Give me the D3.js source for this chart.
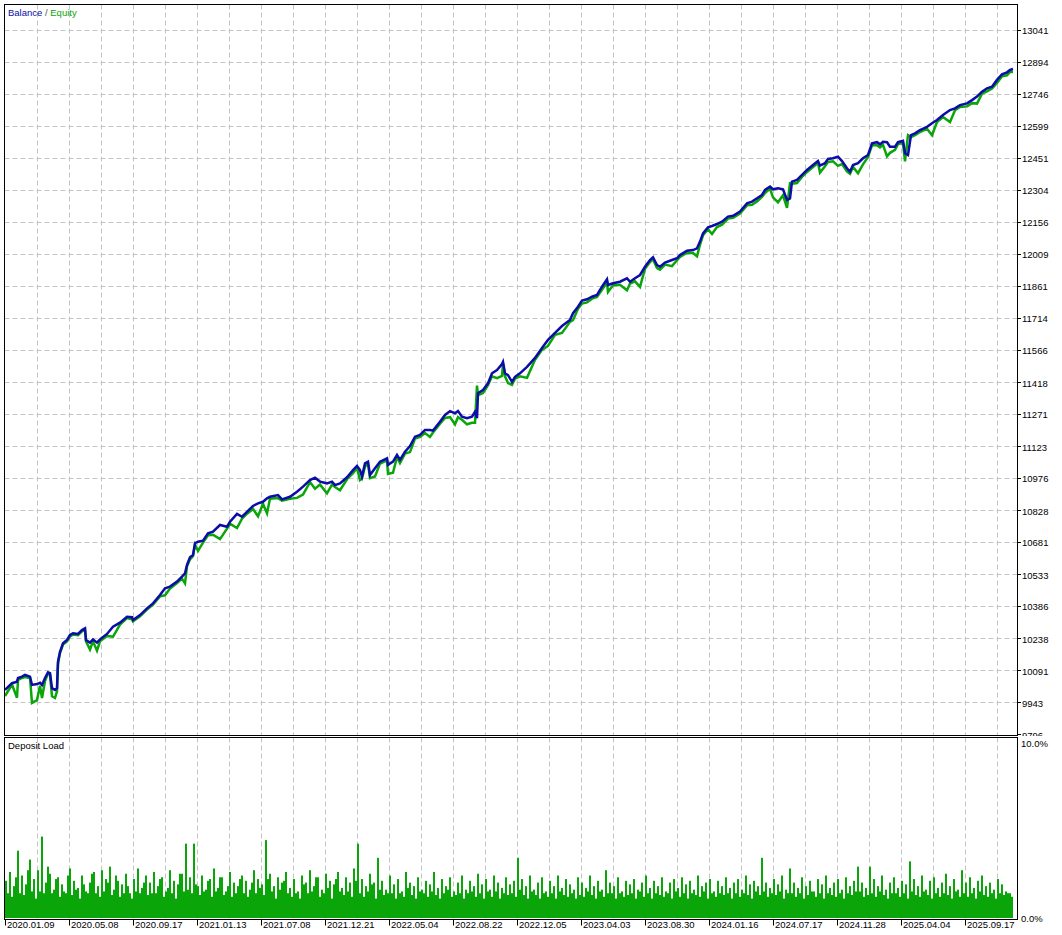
<!DOCTYPE html>
<html>
<head>
<meta charset="utf-8">
<script src="https://cdnjs.cloudflare.com/ajax/libs/d3/7.8.5/d3.min.js"></script>
<style>
body { margin: 0; background: #fff; }
text { font-family: "Liberation Sans", Arial, sans-serif; font-size: 9.5px; fill: #000; }
</style>
</head>
<body>
<div id="chart"></div>
<script>
// deal number of each balance point
const trade = [0,7,12,13,17,20,25,27,32,35,
  37,40,43,45,47,50,52,53,55,58,
  62,65,68,73,77,80,81,85,88,92,
  95,102,108,115,122,127,128,135,142,148,
  155,160,165,172,177,180,182,185,188,190,
  193,198,203,208,215,222,225,232,237,242,
  248,253,258,262,265,273,277,285,292,298,
  305,310,315,322,327,330,335,342,348,352,
  355,357,360,363,365,370,375,382,383,388,
  392,395,400,405,410,415,420,425,428,435,
  440,445,450,453,457,462,467,470,472,473,
  478,483,487,492,497,498,500,503,507,510,
  515,522,530,537,543,550,557,565,568,573,
  577,582,587,592,597,602,603,608,615,622,
  625,630,635,640,645,648,652,655,660,667,
  672,675,682,688,692,695,698,703,707,712,
  717,723,728,735,742,747,752,757,760,765,
  768,773,778,782,785,787,792,797,802,808,
  813,815,820,823,828,833,837,842,845,848,
  853,858,863,867,872,875,878,882,885,890,
  893,898,900,903,906,910,915,922,927,932,
  938,945,950,955,962,967,972,977,982,987,
  992,997,1002,1005,1008];

const balance = [10000,10031,10038,10055,10061,10069,10061,10023,10027,10033,
  10023,10055,10081,10077,10008,10000,10008,10130,10176,10215,
  10230,10253,10261,10258,10276,10284,10230,10218,10233,10218,
  10233,10258,10291,10310,10337,10335,10322,10345,10376,10399,
  10437,10468,10476,10499,10522,10537,10576,10611,10622,10676,
  10683,10688,10722,10729,10760,10752,10775,10811,10798,10821,
  10848,10860,10867,10883,10890,10898,10878,10890,10913,10937,
  10967,10978,10960,10952,10960,10944,10952,10980,11013,11032,
  11013,10983,11044,11052,10990,11021,11052,11067,11037,11052,
  11083,11060,11098,11124,11167,11175,11198,11198,11195,11236,
  11267,11285,11275,11285,11259,11252,11259,11282,11252,11367,
  11382,11413,11459,11474,11502,11512,11459,11451,11420,11443,
  11459,11489,11530,11576,11613,11645,11677,11705,11736,11766,
  11794,11800,11812,11820,11858,11892,11866,11874,11881,11897,
  11881,11897,11912,11950,11981,11994,11958,11950,11969,11981,
  11989,12004,12024,12027,12035,12066,12104,12132,12138,12147,
  12158,12181,12185,12204,12242,12250,12265,12281,12304,12319,
  12307,12312,12307,12258,12265,12342,12350,12373,12396,12419,
  12437,12416,12427,12447,12450,12457,12437,12404,12388,12419,
  12427,12450,12465,12519,12524,12514,12526,12524,12503,12503,
  12524,12530,12473,12465,12557,12565,12580,12595,12611,12626,
  12649,12672,12680,12695,12703,12718,12734,12757,12772,12780,
  12811,12837,12846,12857,12861];

// floating profit/loss at each balance point (equity - balance)
const floating = [-28,-6,-74,-9,-6,-9,-6,-83,-74,-14,
  -60,-14,-6,-6,-37,-37,-14,-9,-6,-6,
  -6,-6,-6,-6,-6,-6,-6,-32,-9,-37,
  -9,-9,-46,-9,-6,-9,-6,-6,-6,-6,
  -6,-32,-9,-6,-9,-46,-6,-9,-6,-6,
  -42,-9,-9,-14,-65,-9,-9,-65,-9,-9,
  -14,-60,-9,-69,-9,-14,-6,-9,-28,-37,
  -9,-51,-14,-46,-14,-9,-32,-9,-14,-9,
  -46,-9,-14,-9,-14,-37,-9,-9,-42,-51,
  -9,-14,-9,-28,-9,-9,-14,-32,-9,-9,
  -14,-28,-51,-28,-14,-28,-28,-51,150,-9,
  -14,-9,-14,-37,-55,-9,-14,-37,-14,-9,
  -14,-51,-9,-9,-28,-9,-32,-9,-32,-9,
  -14,-14,-9,-9,-14,-14,-32,-9,-14,-55,
  -9,-14,-55,-9,-9,-9,-14,-14,-9,-28,
  -9,-9,-9,-14,-37,-14,-9,-9,-37,-14,
  -14,-9,-9,-9,-9,-14,-14,-9,-14,-9,
  -37,-65,-28,-37,70,-9,-14,-9,-9,-9,
  -9,-32,-14,-14,-14,-42,-14,-14,-9,-9,
  -46,-28,-9,-9,-14,-14,-14,-65,-28,-14,
  -9,-9,-37,92,-9,-9,-9,-9,-55,-9,
  -9,-55,-9,-9,-14,-14,-32,-9,-14,-9,
  -14,-9,-14,-9,-14];

const yTicks = [9796,9943,10091,10238,10386,10533,10681,10828,10976,11123,11271,11418,
  11566,11714,11861,12009,12156,12304,12451,12599,12746,12894,13041];

const dateTrade = [0,64,128,192,256,320,384,448,512,576,640,704,768,832,896,960];
const dateLabels = ["2020.01.09","2020.05.08","2020.09.17","2021.01.13","2021.07.08","2021.12.21",
  "2022.05.04","2022.08.22","2022.12.05","2023.04.03","2023.08.30","2024.01.16",
  "2024.07.17","2024.11.28","2025.04.04","2025.09.17"];

// deposit load in %, one value per 2 deals
const loadStep = 2;
const loadPct = [
  2.1,1.4,2.6,1.2,1.8,2.3,3.8,1.4,2.4,1.3,1.9,2.7,3.3,1.5,2.2,1.1,2.7,1.5,4.6,1.4,2.0,2.9,2.5,1.4,
  1.6,2.2,2.3,1.2,1.9,1.5,1.4,2.4,2.8,1.3,2.1,1.6,1.7,1.1,2.4,1.9,1.5,1.4,2.0,2.5,2.6,1.4,1.8,1.2,
  2.7,1.5,2.2,2.0,2.9,1.3,1.6,2.4,2.1,1.2,1.9,1.4,2.5,1.8,1.4,1.1,2.2,1.5,2.8,1.4,1.7,2.0,2.4,1.3,
  2.0,1.4,2.6,1.4,1.8,2.2,2.3,1.2,1.5,1.7,2.7,1.4,2.1,1.1,1.9,2.5,2.5,1.5,4.2,1.6,2.3,1.4,4.2,1.9,
  1.8,1.3,2.4,1.5,1.6,2.1,2.2,1.2,2.8,1.5,1.7,2.3,2.3,1.3,1.5,1.8,2.6,1.2,2.0,1.4,1.8,2.2,2.4,1.4,
  2.1,1.2,1.6,2.0,2.7,1.4,2.2,1.7,1.9,1.3,4.4,2.2,2.5,1.5,1.8,1.1,2.3,1.6,2.0,2.1,2.6,1.4,1.7,1.2,
  2.2,1.4,1.5,1.1,2.4,1.9,2.0,1.4,2.7,1.5,1.8,2.3,2.3,1.2,1.6,1.4,2.5,1.7,2.1,1.1,1.9,2.2,2.6,1.5,
  1.7,1.3,2.3,1.5,2.0,1.2,2.8,2.1,4.2,1.4,2.2,1.2,1.8,1.5,2.5,1.9,2.0,1.1,3.4,1.6,2.1,1.3,1.6,1.4,
  2.4,1.4,1.9,1.1,2.2,1.4,1.5,1.2,2.6,1.7,2.0,1.3,1.8,1.1,2.3,1.5,1.6,1.4,2.1,1.2,1.9,1.5,2.6,1.3,
  1.7,1.1,2.2,1.4,1.8,1.6,2.3,1.2,1.5,1.3,2.0,1.4,2.4,1.1,1.6,1.4,2.1,1.5,1.8,1.2,2.5,1.4,1.9,1.1,
  2.2,1.5,1.6,1.2,2.4,1.5,2.0,1.1,1.7,1.4,2.3,1.3,1.9,1.4,2.1,1.2,3.4,1.6,2.2,1.3,1.8,1.1,2.4,1.5,
  1.6,1.3,2.0,1.1,2.3,1.4,1.5,1.2,2.1,1.4,1.8,1.1,2.4,1.5,1.7,1.3,2.2,1.2,1.9,1.4,1.6,1.1,2.3,1.3,
  2.0,1.2,1.7,1.5,2.4,1.3,1.8,1.1,2.1,1.5,1.6,1.2,2.7,1.4,2.0,1.4,1.8,1.1,2.3,1.4,1.5,1.2,2.1,1.3,
  1.9,1.4,2.2,1.1,1.6,1.5,2.0,1.2,2.4,1.4,1.7,1.1,2.1,1.4,1.8,1.3,2.3,1.2,1.5,1.4,2.0,1.1,2.2,1.5,
  1.7,1.2,2.3,1.4,1.9,1.1,2.1,1.4,1.6,1.3,2.4,1.2,1.8,1.5,2.0,1.1,2.2,1.4,1.5,1.2,2.1,1.4,1.8,1.3,
  2.3,1.4,1.7,1.1,2.0,1.4,2.2,1.2,1.6,1.4,2.4,1.3,1.9,1.1,2.1,1.5,1.8,1.3,3.4,1.5,2.0,1.2,1.7,1.4,
  2.2,1.3,1.9,1.5,2.4,1.1,1.6,1.4,2.8,1.4,2.0,1.2,1.7,1.4,2.3,1.1,1.8,1.3,2.1,1.5,1.5,1.2,2.2,1.4,
  1.9,1.1,2.4,1.4,1.7,1.3,2.0,1.2,2.2,1.4,1.6,1.1,2.3,1.4,1.8,1.3,2.1,1.5,2.9,1.5,2.0,1.2,1.7,1.3,
  2.9,1.4,2.2,1.2,1.8,1.5,2.4,1.3,1.6,1.1,2.0,1.4,2.3,1.4,1.7,1.2,2.1,1.4,1.9,1.1,3.2,1.5,2.2,1.3,
  1.8,1.2,2.4,1.5,1.6,1.3,2.1,1.1,2.3,1.4,1.7,1.2,2.0,1.4,2.5,1.3,1.8,1.1,2.2,1.5,1.6,1.2,2.7,1.4,
  2.0,1.2,2.3,1.4,1.7,1.1,2.1,1.5,2.4,1.3,1.8,1.2,2.0,1.4,1.6,1.1,2.2,1.4,1.9,1.3,1.5,1.4,1.4,1.2];
const loadTicks = [10, 0];

const W = 1062, H = 935;
const left = 4.5, right = 1017.5;
const mainTop = 4.5, mainBottom = 735.5;
const subTop = 737.5, subBottom = 919.5;
const blue = "#0c0ca8", green = "#09a509", gridCol = "#c4c4c4";

const svg = d3.select("#chart").append("svg")
  .attr("width", W).attr("height", H);

const x = d3.scaleLinear().domain([0, 1008]).range([5, 1013]);
const y = d3.scaleLinear().domain([9796, 13041]).range([734.2, 30]);
const yLoad = d3.scaleLinear().domain([0, 10]).range([918, 741]);

const gridX = d3.range(32, 1008, 32);

// main panel grid
const gMain = svg.append("g");
gMain.selectAll(".hg").data(yTicks.slice(1)).enter().append("line")
  .attr("x1", left).attr("x2", right)
  .attr("y1", d => Math.round(y(d)) + 0.5).attr("y2", d => Math.round(y(d)) + 0.5)
  .attr("stroke", gridCol).attr("stroke-dasharray", "5,3");
gMain.selectAll(".vg").data(gridX).enter().append("line")
  .attr("x1", d => Math.round(x(d)) + 0.5).attr("x2", d => Math.round(x(d)) + 0.5)
  .attr("y1", mainTop).attr("y2", mainBottom)
  .attr("stroke", gridCol).attr("stroke-dasharray", "5,3");

// lower panel grid
svg.append("g").selectAll("line").data(gridX).enter().append("line")
  .attr("x1", d => Math.round(x(d)) + 0.5).attr("x2", d => Math.round(x(d)) + 0.5)
  .attr("y1", subTop).attr("y2", subBottom)
  .attr("stroke", gridCol).attr("stroke-dasharray", "5,3");

// equity and balance
const pts = trade.map((t, i) => ({t: t, b: balance[i], e: balance[i] + floating[i]}));
svg.append("path").datum(pts)
  .attr("d", d3.line().x(d => x(d.t)).y(d => y(d.e)))
  .attr("fill", "none").attr("stroke", green).attr("stroke-width", 2.5);
svg.append("path").datum(pts)
  .attr("d", d3.line().x(d => x(d.t)).y(d => y(d.b)))
  .attr("fill", "none").attr("stroke", blue).attr("stroke-width", 2.5);

// deposit load bars
svg.append("g").selectAll("rect").data(loadPct).enter().append("rect")
  .attr("x", (d, i) => x(i * loadStep))
  .attr("width", x(loadStep) - x(0))
  .attr("y", d => yLoad(d))
  .attr("height", d => yLoad(0) - yLoad(d))
  .attr("fill", green);

// frames
svg.append("rect").attr("x", left).attr("y", mainTop)
  .attr("width", right - left).attr("height", mainBottom - mainTop)
  .attr("fill", "none").attr("stroke", "#000");
svg.append("rect").attr("x", left).attr("y", subTop)
  .attr("width", right - left).attr("height", subBottom - subTop)
  .attr("fill", "none").attr("stroke", "#000");

// right axis of main panel
svg.append("clipPath").attr("id", "axclip").append("rect")
  .attr("x", right).attr("y", 0).attr("width", 60).attr("height", 736);
const gy = svg.append("g").attr("clip-path", "url(#axclip)");
gy.selectAll("line").data(yTicks).enter().append("line")
  .attr("x1", right).attr("x2", right + 3.5)
  .attr("y1", d => Math.round(y(d)) + 0.5).attr("y2", d => Math.round(y(d)) + 0.5)
  .attr("stroke", "#000");
gy.selectAll("text").data(yTicks).enter().append("text")
  .attr("x", 1022).attr("y", d => y(d) + 1).attr("dy", "0.35em")
  .text(d => d);

// right axis of deposit load
svg.append("g").selectAll("text").data(loadTicks).enter().append("text")
  .attr("x", 1021).attr("y", d => d === 10 ? 744 : 919).attr("dy", "0.35em")
  .text(d => d3.format(".1f")(d) + "%");

// bottom axis
const gx = svg.append("g");
gx.selectAll("line").data(dateTrade).enter().append("line")
  .attr("x1", d => Math.round(x(d)) + 0.5).attr("x2", d => Math.round(x(d)) + 0.5)
  .attr("y1", subBottom).attr("y2", subBottom + 6)
  .attr("stroke", "#000");
gx.selectAll("text").data(dateLabels).enter().append("text")
  .attr("x", (d, i) => x(dateTrade[i]) + 2).attr("y", 925).attr("dy", "0.35em")
  .text(d => d);

// titles
const t1 = svg.append("text").attr("x", 8).attr("y", 13).attr("dy", "0.35em");
t1.append("tspan").style("fill", blue).text("Balance");
t1.append("tspan").style("fill", "#555").text(" / ");
t1.append("tspan").style("fill", green).text("Equity");
svg.append("text").attr("x", 8).attr("y", 746).attr("dy", "0.35em").text("Deposit Load");
</script>
</body>
</html>
